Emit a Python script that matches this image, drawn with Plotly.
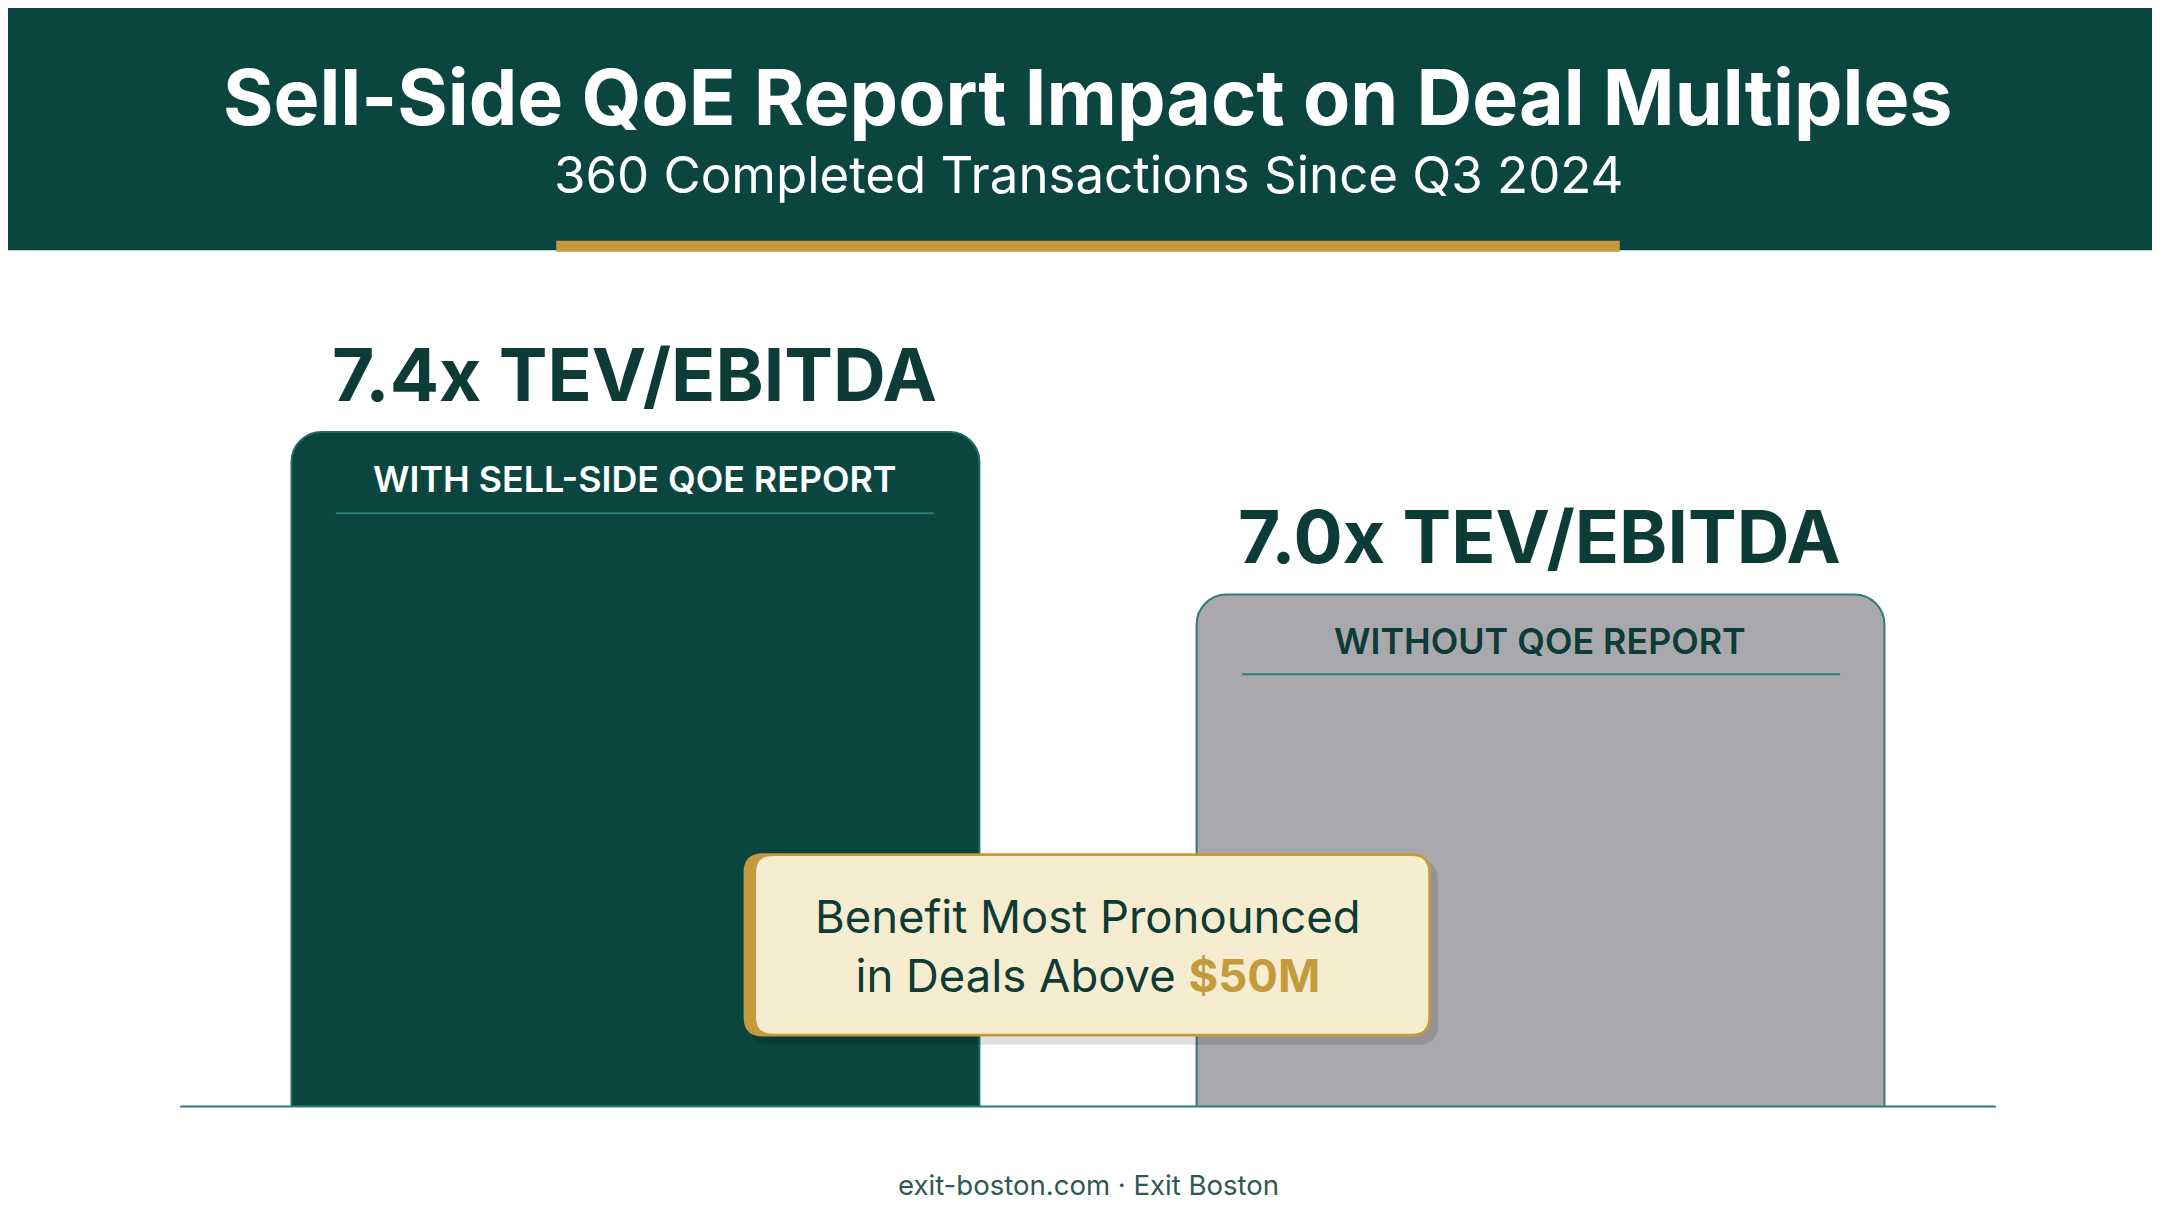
import plotly.graph_objects as go

categories = ["With Sell-Side QoE Report", "Without QoE Report"]
multiples = [7.4, 7.0]
value_labels = ["7.4x TEV/EBITDA", "7.0x TEV/EBITDA"]
inner_labels = ["WITH SELL-SIDE QOE REPORT", "WITHOUT QOE REPORT"]

W, H = 1568.0, 876.0
S = 2160 / 1568.0
def px(x): return x / W
def py(y): return 1 - y / H

DARK = "#0b4540"
TEXT = "#0d3b36"
GOLD = "#c49a3c"
TEAL = "#2d7d78"

def rrect(x0, y0, x1, y1, r):
    rx, ry = r / W, r / H
    X0, X1, Y0, Y1 = px(x0), px(x1), py(y1), py(y0)
    return (f"M{X0+rx},{Y0} L{X1-rx},{Y0} Q{X1},{Y0} {X1},{Y0+ry} L{X1},{Y1-ry} Q{X1},{Y1} {X1-rx},{Y1} "
            f"L{X0+rx},{Y1} Q{X0},{Y1} {X0},{Y1-ry} L{X0},{Y0+ry} Q{X0},{Y0} {X0+rx},{Y0} Z")

fig = go.Figure()
fig.add_trace(go.Bar(
    x=[0, 1], y=multiples, width=0.76,
    marker=dict(color=[DARK, "#a9a9ad"], line=dict(color=["#1e6a62", TEAL], width=2)),
    hoverinfo="skip", showlegend=False))

base = 5.739
ytop = base + (798 - 200) / 295.0
fig.update_layout(
    width=2160, height=1206, margin=dict(l=0, r=0, t=0, b=0),
    paper_bgcolor="white", plot_bgcolor="rgba(0,0,0,0)",
    barcornerradius=int(22 * S),
    xaxis=dict(range=[-455.5 / 657, (W - 455.5) / 657], visible=False, domain=[0, 1]),
    yaxis=dict(range=[base, ytop], visible=False, domain=[py(798), py(200)]),
    font=dict(family="Inter"),
)

shapes = [
    dict(type="rect", xref="paper", yref="paper", x0=0, x1=1, y0=py(176), y1=1, fillcolor=DARK, line_width=0, layer="below"),
    dict(type="rect", xref="paper", yref="paper", x0=px(398), x1=px(1170), y0=py(177), y1=py(169), fillcolor=GOLD, line_width=0),
    dict(type="line", xref="paper", yref="paper", x0=px(125), x1=px(1443), y0=py(798), y1=py(798), line=dict(color=TEAL, width=2)),
    dict(type="line", xref="paper", yref="paper", x0=px(238), x1=px(672), y0=py(367), y1=py(367), line=dict(color=TEAL, width=2)),
    dict(type="line", xref="paper", yref="paper", x0=px(896), x1=px(1330), y0=py(484), y1=py(484), line=dict(color=TEAL, width=2)),
    dict(type="path", xref="paper", yref="paper", path=rrect(538, 619, 1038, 753, 14), fillcolor="rgba(0,0,0,0.12)", line_width=0),
    dict(type="path", xref="paper", yref="paper", path=rrect(534, 614, 1033, 747, 14), fillcolor=GOLD, line_width=0),
    dict(type="path", xref="paper", yref="paper", path=rrect(543, 616, 1031, 745, 12), fillcolor="#f6ecd0", line_width=0),
]
fig.update_layout(shapes=shapes)

def ann(text, x, y, size, color, bold=False, family="Inter", weight=None):
    f = dict(size=size * S, color=color, family=family)
    if weight: f["weight"] = weight
    fig.add_annotation(xref="paper", yref="paper", x=px(x), y=py(y), text=(f"<b>{text}</b>" if bold else text),
                       showarrow=False, xanchor="center", yanchor="middle", font=f)

ann("Sell-Side QoE Report Impact on Deal Multiples", 784, 65, 56, "white", True)
ann("360 Completed Transactions Since Q3 2024", 784, 121, 37, "white")
ann(value_labels[0], 455, 266, 53, TEXT, True)
ann(value_labels[1], 1112, 384, 53, TEXT, True)
ann(inner_labels[0], 455, 342, 26, "white", weight=600)
ann(inner_labels[1], 1112, 460, 26, TEXT, weight=600)
ann("Benefit Most Pronounced<br>in Deals Above <b><span style='color:#c49a3c'>$50M</span></b>", 784, 681, 33, TEXT)
ann("exit-boston.com · Exit Boston", 784, 855, 20, "#2f5954")

fig.write_html("out.html")
